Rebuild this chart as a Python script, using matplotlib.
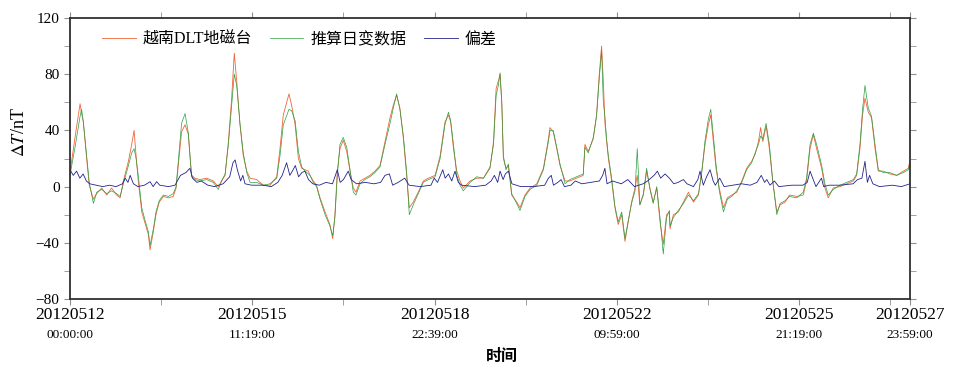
import numpy as np
import matplotlib
matplotlib.use("Agg")
import matplotlib.pyplot as plt
from matplotlib.ticker import FixedLocator

plt.rcParams['font.family'] = ['Liberation Serif', 'Noto Sans CJK SC']
plt.rcParams['mathtext.fontset'] = 'stix'

# hours since 2012-05-12 00:00 (UTC)
t_hours = [0, 2.3, 4.6, 5.3, 6.1, 7.6, 8.8, 10.7, 12.2, 14.5, 16.8, 19.0, 21.3, 22.9,
           24.4, 26.7, 28.2, 29.3, 30.2, 31.2, 32.8, 34.3, 35.8, 36.6, 38.1, 39.3, 40.8,
           42.7, 45.0, 47.2, 48.5, 49.5, 51.0, 52.6, 54.1, 54.9, 55.6, 57.1, 59.4, 62.5,
           65.5, 67.8, 69.3, 70.9, 72.4, 73.9, 75.1, 76.2, 77.7, 79.2, 80.8, 82.3, 85.3,
           88.4, 91.4, 94.5, 96.0, 97.5, 100.1, 101.3, 102.9, 104.4, 105.9, 107.4, 109.0,
           109.7, 111.2, 112.7, 114.3, 116.6, 118.8, 120.1, 121.1, 122.2, 123.4, 124.9,
           126.5, 128.0, 129.5, 130.7, 132.6, 134.8, 137.1, 139.4, 141.7, 144.0, 146.3,
           147.8, 149.3, 150.8, 152.4, 153.9, 155.1, 156.9, 159.2, 161.5, 163.8, 166.9,
           169.2, 171.4, 173.0, 174.0, 175.3, 176.8, 178.3, 179.8, 182.9, 185.9, 189.0,
           192.0, 193.6, 194.8, 195.8, 196.6, 197.4, 198.1, 199.3, 200.4, 201.9, 204.2,
           205.7, 208.0, 210.3, 213.4, 216.4, 218.7, 219.4, 220.9, 222.5, 224.0, 226.3,
           228.5, 231.6, 234.6, 235.4, 236.9, 239.2, 240.7, 241.9, 243.0, 243.8, 244.5,
           245.3, 246.1, 247.6, 249.1, 250.6, 252.2, 253.7, 255.2, 256.7, 258.3, 259.3,
           260.5, 262.1, 263.6, 265.1, 266.6, 268.2, 269.7, 271.2, 272.7, 274.0, 274.3,
           275.8, 278.1, 280.4, 282.7, 285.0, 287.3, 288.8, 290.3, 291.8, 292.9, 294.1,
           295.3, 296.8, 298.7, 300.5, 302.5, 304.8, 307.1, 309.3, 311.6, 313.2, 314.7,
           315.7, 316.7, 318.2, 319.7, 321.2, 323.1, 324.6, 326.9, 328.9, 332.2, 335.2,
           336.7, 338.3, 339.8, 341.3, 343.6, 345.1, 346.6, 348.9, 352.0, 355.0, 358.1,
           359.6, 361.1, 362.3, 363.4, 364.9, 366.4, 368.0, 369.5, 371.8, 374.8, 377.9,
           380.9, 383.2, 384.0]

dlt = [10, 35, 59, 52, 46, 20, 1, -9, -5, -1, -6, -1, -6, -8,
       4, 18, 30, 40, 22, 4, -18, -26, -34, -45, -32, -20, -11,
       -7, -8, -7, -1, 15, 39, 44, 37, 20, 8, 6, 5, 6,
       4, 0, 4, 8, 32, 63, 95, 75, 44, 22, 11, 6, 5,
       1, 1, 7, 27, 51, 66, 58, 44, 20, 13, 12, 11,
       8, 4, 1, -8, -18, -27, -37, -20, 11, 27, 33,
       25, 11, -1, -4, 4, 6, 8, 11, 15, 32, 49,
       58, 65, 56, 34, 8, -15, -11, -4, 4, 6, 8,
       22, 46, 51, 46, 27, 11, 4, -1, 4, 6, 6,
       13, 32, 70, 75, 80, 60, 20, 13, 15, -6, -11,
       -15, -6, -1, 2, 13, 34, 42, 39, 27, 15, 4,
       4, 6, 8, 30, 25, 34, 51, 79, 100, 75, 46,
       32, 20, 4, -15, -27, -20, -39, -25, -11, -1, 8,
       -13, -6, 11, -1, -11, -1, -25, -41, -20, -18, -30,
       -20, -18, -11, -4, -11, -6, 11, 30, 44, 51, 32,
       13, -1, -15, -8, -6, -4, 4, 13, 18, 23, 32,
       42, 32, 43, 27, 4, -18, -13, -11, -6, -7, -6,
       4, 27, 37, 27, 13, -1, -8, -1, 0, 2, 4,
       8, 27, 51, 63, 53, 49, 27, 11, 11, 9, 8,
       11, 13, 19]

calc = [8, 28, 50, 55, 46, 22, 3, -12, -4, -2, -5, -3, -5, -7,
        2, 15, 24, 27, 20, 8, -15, -24, -32, -42, -30, -18, -10,
        -6, -7, -5, 0, 18, 45, 52, 38, 22, 7, 5, 4, 5,
        3, -2, 4, 9, 30, 58, 80, 72, 45, 24, 10, 3, 3,
        1, 2, 6, 22, 44, 55, 54, 47, 25, 14, 11, 9,
        8, 3, 0, -9, -20, -28, -35, -22, 8, 30, 35,
        28, 12, -4, -6, 2, 5, 7, 10, 14, 30, 45,
        56, 66, 55, 36, 10, -20, -13, -5, 3, 5, 7,
        20, 44, 53, 47, 30, 8, 1, -3, 3, 7, 6,
        14, 30, 65, 72, 81, 58, 22, 12, 16, -5, -12,
        -17, -7, -2, 1, 12, 32, 40, 40, 28, 16, 2,
        5, 7, 9, 28, 24, 35, 50, 76, 97, 60, 50,
        34, 22, 6, -14, -25, -18, -37, -24, -12, -3, 27,
        -13, -5, 13, -2, -12, 0, -22, -48, -22, -17, -28,
        -22, -17, -12, -6, -10, -5, 10, 33, 48, 55, 36,
        16, -3, -18, -9, -7, -3, 3, 12, 17, 24, 30,
        36, 34, 45, 30, 5, -20, -12, -10, -7, -8, -4,
        6, 30, 38, 30, 15, 2, -6, -2, 1, 3, 5,
        9, 30, 55, 72, 56, 50, 30, 12, 10, 10, 8,
        10, 12, 17]

t_dev = [0, 1.5, 3, 4.5, 6, 7.5, 9, 12, 15, 18, 21, 24, 25.2, 26.5, 27.5, 29, 31, 34,
         36.6, 38, 39.6, 41, 45, 48, 50.5, 53, 54.8, 56, 58, 60, 63, 66, 70, 73, 74.5,
         75.5, 76.5, 78, 79, 80, 83, 88, 92, 95, 97, 99, 100.5, 102, 103, 104.5, 106,
         107.4, 109, 111, 114, 117, 120, 122.2, 123.5, 125, 127.2, 128.5, 131, 135, 139,
         142, 144, 146, 147.5, 150, 153, 155, 160, 165, 166.5, 168, 170.4, 171.5, 173,
         174.5, 176, 177.5, 179, 185, 190, 192.5, 194, 195.5, 196.6, 198, 199, 200.4,
         202, 206, 212, 217, 218.7, 220, 221, 223, 224.5, 226, 229, 231, 234, 238, 242,
         243.5, 244.5, 245.5, 248, 252, 255, 258, 262, 264, 267, 268.5, 270, 272, 274,
         276, 278, 280.4, 282, 285, 287, 288, 289.5, 291, 292.6, 294, 295, 297, 299, 303,
         307, 311, 314, 316, 317.5, 318.5, 320, 322, 324, 330, 335, 337, 338.3, 339.5,
         341, 343.5, 344.5, 347, 352, 358, 360, 362, 363.4, 364.5, 365.5, 367, 370, 376,
         380, 382, 384]
dev = [12, 8, 11, 6, 9, 4, 2, 1, 0, 1, 0, 2, 6, 3, 8, 2, 0, 1,
       3.5, 0, 3.5, 1, 0, 1, 8, 10, 13, 6, 3, 4, 1, 0, 2, 7, 17,
       19, 12, 4, 8, 2, 1, 1, 0, 3, 8, 17, 8, 12, 15, 7, 10,
       11, 5, 2, 1, 3, 2, 12, 3, 5, 11, 5, 2, 3, 2,
       3, 8, 9, 1, 3, 6, 1, 0, 1, 6, 3, 12, 6, 9,
       4, 11, 3, 1, 0, 1, 4, 8, 3, 11, 5, 9, 11,
       2, 0, 0, 1, 6, 8, 1, 3, 5, 0, 1, 4, 2, 3, 4,
       8, 13, 2, 4, 2, 5, 0, 2, 4, 8, 11, 6, 9, 6,
       2, 3, 5, 2, 0, 5, 11, 1, 7, 12, 4, 1, 6, 0, 1,
       2, 1, 3, 8, 3, 5, 1, 4, 0, 1, 1, 3, 11, 6,
       0, 6, 0, 1, 1, 2, 5, 6, 18, 3, 8, 2, 0, 1,
       0, 1, 2]

tick_min = [0, 4999, 9999, 14999, 19999, 23039]
tick_date = ['20120512', '20120515', '20120518', '20120522', '20120525', '20120527']
tick_time = ['00:00:00', '11:19:00', '22:39:00', '09:59:00', '21:19:00', '23:59:00']
minor_min = [2500, 7500, 12500, 17500, 22500]

fig = plt.figure(figsize=(9.74, 3.77), dpi=100)
ax = fig.add_axes([70/974, 1-299/377, 840/974, 281/377])

ax.plot(np.array(t_hours)*60, dlt, color='#f0653a', lw=0.6, label='越南DLT地磁台')
ax.plot(np.array(t_hours)*60, calc, color='#2ca043', lw=0.5, label='推算日变数据')
ax.plot(np.array(t_dev)*60, dev, color='#22228c', lw=0.6, label='偏差')

ax.set_xlim(0, 23039)
ax.set_ylim(-80, 120)
ax.set_yticks([-80, -40, 0, 40, 80, 120])
ax.yaxis.set_minor_locator(FixedLocator([-60, -20, 20, 60, 100]))
ax.set_xticks(tick_min)
ax.set_xticklabels(tick_date, fontsize=12.5)
ax.xaxis.set_minor_locator(FixedLocator(minor_min))
ax.tick_params(which='both', direction='out', length=4, color='#909090',
               top=True, right=True, labelsize=11)
ax.tick_params(axis='x', labelsize=12.5, pad=2)
for s in ax.spines.values():
    s.set_color('#303030')
    s.set_linewidth(1.3)

for xm, tt in zip(tick_min, tick_time):
    ax.annotate(tt, xy=(xm, 0), xycoords=('data', 'axes fraction'),
                xytext=(0, -21.5), textcoords='offset points',
                ha='center', va='top', fontsize=9.5)

fig.text(20/974, 1-132/377, r'$\Delta\mathit{T}$/nT', rotation=90,
         ha='center', va='center', fontsize=13)
fig.text(502/974, 1-356/377, '时间', ha='center', va='center',
         fontsize=11.5, family='Noto Sans CJK SC', weight='bold')

leg = ax.legend(loc='upper left', bbox_to_anchor=(32/840, 1-14/281), ncol=3,
                frameon=False, fontsize=11.5, handlelength=2.1, handletextpad=0.45,
                columnspacing=1.1, borderaxespad=0, borderpad=0)

fig.savefig('out.png', dpi=100)
